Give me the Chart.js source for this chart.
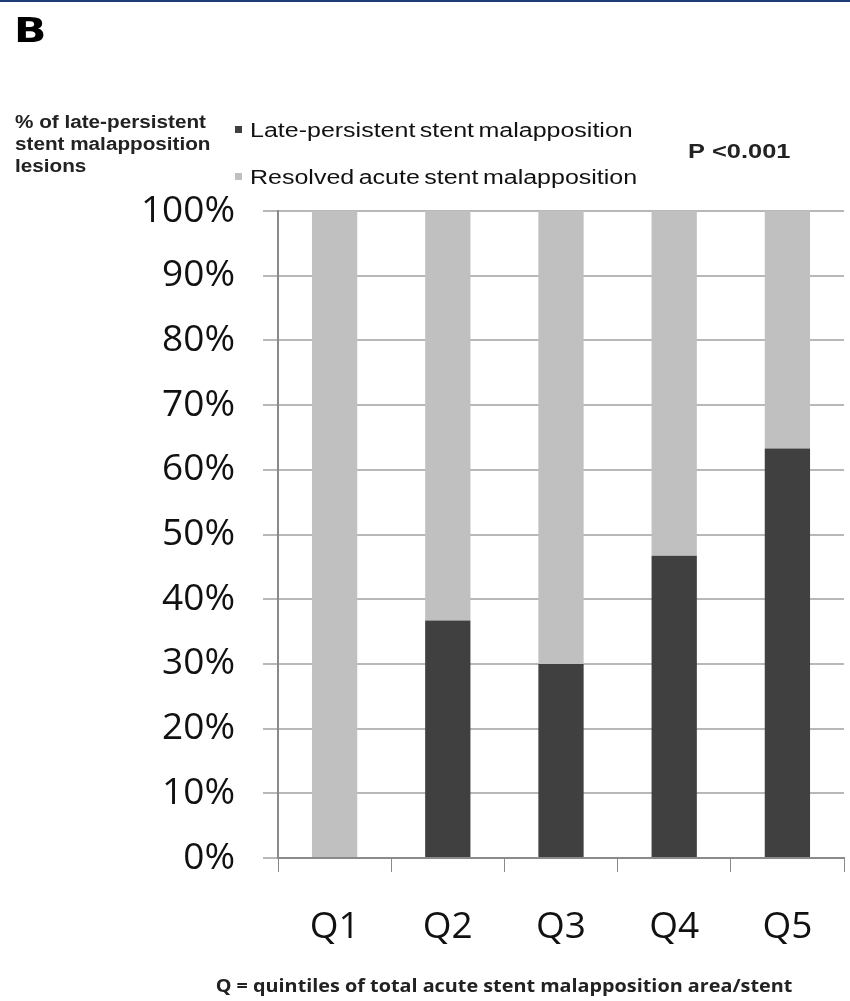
<!DOCTYPE html>
<html>
<head>
<meta charset="utf-8">
<script src="https://cdn.jsdelivr.net/npm/chart.js@4/dist/chart.umd.min.js"></script>
<style>
  html, body { margin: 0; padding: 0; background: #fff; }
  #wrap { width: 850px; height: 1001px; position: relative; }
</style>
</head>
<body>
<div id="wrap"><canvas id="grafico"></canvas></div>
<script>
// quintiles y porcentajes por grupo
var quintiles = ["Q1", "Q2", "Q3", "Q4", "Q5"];
var persistente = [0, 36.7, 30.0, 46.7, 63.3];
var resuelta = [100, 63.3, 70.0, 53.3, 36.7];
var etiquetas = ["Late-persistent stent malapposition", "Resolved acute stent malapposition"];
var colores = ["#404040", "#c0c0c0"];
var tituloY = ["% of late-persistent", "stent malapposition", "lesions"];
var pie = "Q = quintiles of total acute stent malapposition area/stent";
var pvalor = "P <0.001";

// texto estirado a lo ancho
function textoAncho(ctx, txt, x, y, ex) {
  ctx.save();
  ctx.translate(x, y);
  ctx.scale(ex, 1);
  ctx.fillText(txt, 0, 0);
  ctx.restore();
}

// textos sueltos: letra del panel, titulo del eje, leyenda, p
var textos = {
  id: "textos",
  afterDraw: function (chart) {
    var ctx = chart.ctx;
    ctx.save();
    // linea superior
    ctx.fillStyle = "#1d3c78";
    ctx.fillRect(0, 0, 850, 2);

    ctx.fillStyle = "#000";
    ctx.textBaseline = "alphabetic";
    ctx.textAlign = "left";
    ctx.font = "bold 34px 'DejaVu Sans'";
    textoAncho(ctx, "B", 14, 42, 1.25);

    ctx.fillStyle = "#222";
    ctx.font = "bold 18px 'Liberation Sans'";
    tituloY.forEach(function (t, i) {
      textoAncho(ctx, t, 15, 128 + i * 22, 1.15);
    });

    // leyenda
    ctx.font = "20px 'Liberation Sans'";
    ctx.wordSpacing = "-2px";
    chart.data.datasets.forEach(function (ds, i) {
      var y = 137 + i * 47;
      ctx.fillStyle = ds.backgroundColor;
      ctx.fillRect(235, y - 11, 7, 7);
      ctx.fillStyle = "#111";
      textoAncho(ctx, ds.label, 250, y, 1.25);
    });
    ctx.wordSpacing = "0px";

    ctx.font = "bold 20px 'Liberation Sans'";
    ctx.fillStyle = "#222";
    textoAncho(ctx, pvalor, 688, 158, 1.27);

    ctx.font = "bold 18px 'Open Sans'";
    ctx.textAlign = "center";
    textoAncho(ctx, pie, 504, 992, 1.1);
    ctx.restore();
  }
};

var datos = {
  labels: quintiles,
  datasets: [
    { label: etiquetas[0], data: persistente, backgroundColor: colores[0], borderWidth: 0 },
    { label: etiquetas[1], data: resuelta, backgroundColor: colores[1], borderWidth: 0 }
  ]
};

new Chart(document.getElementById("grafico"), {
  type: "bar",
  data: datos,
  plugins: [textos],
  options: {
    responsive: true,
    maintainAspectRatio: false,
    animation: false,
    layout: { padding: { left: 0, top: 211, right: 6, bottom: 0 } },
    datasets: { bar: { barPercentage: 0.4, categoryPercentage: 1 } },
    plugins: { legend: { display: false }, tooltip: { enabled: false } },
    scales: {
      x: {
        stacked: true,
        afterFit: function (s) { s.height = 143; },
        grid: { drawOnChartArea: false, drawTicks: true, tickLength: 14, color: "#8a8a8a", offset: true },
        border: { color: "#8a8a8a", width: 2 },
        ticks: { color: "#111", padding: 33, font: { family: "Open Sans", size: 37 } }
      },
      y: {
        stacked: true,
        min: 0,
        max: 100,
        afterFit: function (s) { s.width = 278; },
        grid: { color: "#b8b8b8", lineWidth: 2, tickLength: 15 },
        border: { color: "#8a8a8a", width: 2 },
        ticks: {
          stepSize: 10,
          color: "#111",
          padding: 28,
          font: { family: "Open Sans", size: 37 },
          callback: function (v) { return v + "%"; }
        }
      }
    }
  }
});
</script>
</body>
</html>
